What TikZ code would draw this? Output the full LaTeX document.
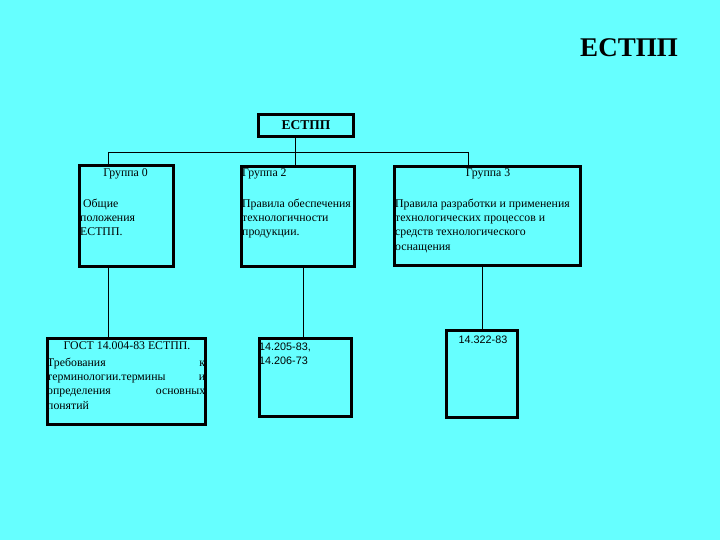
\documentclass[tikz,border=0pt]{standalone}
\usepackage{fontspec}
\setmainfont{Liberation Serif}
\newfontfamily\arialf{Liberation Sans}
\definecolor{bgcyan}{RGB}{102,255,255}
\begin{document}
\begin{tikzpicture}[x=1pt,y=-1pt,
  box/.style={draw=black,line width=3pt,fill=bgcyan,inner sep=0pt},
  conn/.style={draw=black,line width=0.9pt},
  txt/.style={inner sep=0pt,font=\fontsize{11.8}{14.3}\selectfont,align=left},
  stxt/.style={inner sep=0pt,font=\arialf\fontsize{10.8}{14.5}\selectfont,align=left}]
\fill[bgcyan] (0,0) rectangle (720,540);
\useasboundingbox (0,0) rectangle (720,540);

\node[inner sep=0pt,font=\bfseries\fontsize{27}{30}\selectfont] (title) at (629,48) {ЕСТПП};

\node[box,minimum width=95pt,minimum height=22pt,font=\bfseries\fontsize{13.5}{15}\selectfont] (top) at (306,125.5) {ЕСТПП};
\node[box,minimum width=94pt,minimum height=101pt] (g0) at (126.5,216) {};
\node[box,minimum width=113pt,minimum height=100pt] (g2) at (298,216.5) {};
\node[box,minimum width=186pt,minimum height=99pt] (g3) at (487.5,216) {};
\node[box,minimum width=158pt,minimum height=86pt] (bA) at (126.5,381.5) {};
\node[box,minimum width=92pt,minimum height=78pt] (bB) at (305.5,377.5) {};
\node[box,minimum width=71pt,minimum height=87pt] (bC) at (482,374) {};

\coordinate (j0) at (108,152);
\coordinate (j2) at (295,152);
\coordinate (j3) at (468,152);
\draw[conn] (top.south -| j2) -- (j2);
\draw[conn] (j0) -- (j3);
\draw[conn] (j0) -- (g0.north -| j0);
\draw[conn] (j2) -- (g2.north -| j2);
\draw[conn] (j3) -- (g3.north -| j3);
\coordinate (k0) at (108,300);
\coordinate (k2) at (303,300);
\coordinate (k3) at (482,300);
\draw[conn] (g0.south -| k0) -- (bA.north -| k0);
\draw[conn] (g2.south -| k2) -- (bB.north -| k2);
\draw[conn] (g3.south -| k3) -- (bC.north -| k3);

\node[txt] (g0h) at (125.5,174) {Группа 0};
\node[txt,anchor=north west] (g0b) at (80,198.5) {\hspace*{3pt}Общие\\положения\\ЕСТПП.};
\node[txt,anchor=west] (g2h) at (242,174) {Группа 2};
\node[txt,anchor=north west] (g2b) at (242,198.5) {Правила обеспечения\\технологичности\\продукции.};
\node[txt] (g3h) at (488,174) {Группа 3};
\node[txt,anchor=north west] (g3b) at (395,198.5) {Правила разработки и применения\\технологических процессов и\\средств технологического\\оснащения};
\node[txt] (aH) at (127,346) {ГОСТ 14.004-83 ЕСТПП.};
\node[txt,anchor=north west,text width=158pt,align=justify] (aB) at (47,357.5) {Требования\hfill к\\терминологии.термины\hfill и\\определения\hfill основных\\понятий};
\node[stxt,anchor=north west] (bBt) at (259,342.5) {14.205-83,\\14.206-73};
\node[stxt] (bCt) at (483,339.5) {14.322-83};
\end{tikzpicture}
\end{document}
